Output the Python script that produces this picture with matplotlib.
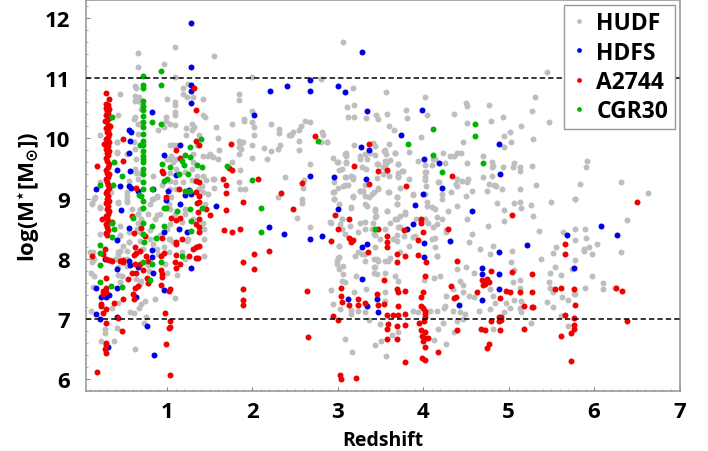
import matplotlib
matplotlib.use('Agg')
import matplotlib.pyplot as plt
import numpy as np
from matplotlib.ticker import MultipleLocator

# redshift, log mass
hudf = [
(.66,11.42),(.66,11.19),(1.09,11.51),(.97,11.24),(1.55,11.36),(1.09,11.02),(1.99,11.02),(.62,10.87),(.64,10.83),(.45,10.73),
(.62,10.70),(.67,10.68),(.62,10.62),(.68,10.61),(.70,10.48),(.43,10.38),(.61,10.32),(.63,10.35),(.70,10.26),(.66,10.24),
(.21,10.06),(.41,9.93),(.42,9.76),(.61,9.93),(.66,10.07),(.63,9.82),(.64,9.65),(.64,9.43),(.63,9.46),(.68,9.43),(.66,9.32),
(.55,9.29),(.21,9.28),(.16,9.02),(.35,9.10),(.995,10.65),(1.09,10.60),(1.09,10.55),(1.19,10.73),(1.23,10.68),(1.19,10.83),
(1.25,10.90),(1.31,10.68),(1.42,10.65),(1.09,10.43),(1.09,10.38),(.99,10.36),(.99,10.29),(1.04,10.24),(.89,10.14),(.96,10.18),
(1.09,10.22),(1.22,10.17),(1.29,10.24),(1.32,10.18),(1.29,10.14),(1.22,10.06),(1.37,10.06),(1.42,10.38),(1.44,10.36),(1.57,10.18),
(1.60,10.0),(1.50,9.74),(1.54,9.69),(1.60,9.65),(1.61,9.80),(1.84,10.73),(1.84,10.63),(1.76,10.24),(1.90,10.32),(1.90,10.29),
(2.0,10.45),(1.99,10.27),(2.02,10.18),(2.02,10.06),(2.22,10.23),(2.31,10.15),(2.31,10.08),(2.43,10.05),(1.84,9.95),(1.85,9.90),
(1.89,9.93),(1.84,9.85),(1.87,9.82),(1.84,9.74),(1.99,9.89),(2.13,9.84),(2.22,9.79),(2.32,9.88),(2.30,9.83),(2.17,9.65),(1.99,9.67),
(1.76,9.60),(1.86,9.48),(1.55,9.32),(1.84,9.28),(1.85,9.15),(1.91,9.15),(1.55,9.17),(2.38,9.36),(2.30,9.03),(1.04,9.88),(1.10,9.88),
(1.11,9.65),(1.04,9.65),(1.07,9.60),(1.11,9.49),(1.04,9.43),(1.04,9.29),(1.09,9.27),(1.11,9.16),(1.04,9.16),(1.19,9.27),(1.31,9.74),
(1.31,9.60),(1.29,9.49),(1.35,9.38),(1.42,9.38),(1.41,9.21),(1.37,9.16),(1.42,9.10),(1.42,9.71),(.84,9.0),(.88,9.02),(.53,9.05),
(.12,8.92),(.21,8.85),(.43,8.93),(.53,8.95),(.68,8.82),(.66,8.74),(.80,8.91),(.92,8.74),(1.04,8.82),(1.04,8.57),(1.21,8.74),(1.42,8.59),
(1.31,8.66),(.45,8.55),(.21,8.41),(.31,8.58),(.66,8.60),(.68,8.44),(.55,8.27),(.45,8.38),(.80,8.33),(.88,8.35),(.995,8.49),(1.04,8.33),
(1.23,8.30),(.96,8.19),(.68,8.30),(.72,8.16),(.88,8.16),(.45,8.13),(.43,8.08),(.53,8.13),(.13,8.12),(.14,8.0),(.43,8.02),(.53,7.88),
(.11,7.77),(.15,7.72),(.43,7.73),(.47,7.71),(.64,7.66),(.70,7.63),(.79,7.80),(.998,7.77),(1.12,7.73),(.13,7.53),(.45,7.61),(.68,7.58),
(.74,7.30),(.86,7.33),(1.09,7.35),(.70,7.25),(.67,7.18),(.43,7.27),(.36,7.19),(.11,7.13),(.57,7.11),(.61,7.10),(.75,7.03),(.73,6.93),
(.27,6.84),(.27,6.76),(.42,6.85),(.23,6.64),(.38,6.64),(.62,6.51),
(.41,9.93),(.42,9.78),(.53,9.74),(.63,9.49),(.84,9.38),(.53,9.10),(.53,8.97),(.43,8.94),(.22,8.86),(.12,8.91),(.14,9.0),(.66,8.75),
(.78,8.75),(.86,8.66),(1.02,8.91),(1.07,9.88),(1.05,9.71),(1.0,9.66),(1.21,9.44),(1.29,9.30),(1.46,9.30),(1.48,9.08),(1.45,8.91),
(1.35,9.88),(1.48,9.71),(1.54,9.33),(.88,9.05),(.94,9.22),(1.05,9.02),(1.21,8.83),(1.09,8.75),(1.17,8.61),(.82,9.0),(.88,8.72),
(.59,8.83),(.70,8.66),(.65,8.50),(.80,8.47),(.55,8.44),(.45,8.39),(.49,8.22),(.43,8.11),(.10,8.11),(.12,7.94),(.55,8.27),(.92,8.39),
(1.02,8.33),(1.07,8.27),(1.25,8.33),(1.43,8.33),(1.43,8.50),(.90,8.08),(1.02,8.11),(1.17,8.11),(.70,8.14),(.84,8.25),(.53,8.0),
(.39,8.0),(1.21,8.0),(1.43,8.05),(.98,7.92),(.78,7.89),(.43,7.86),
(3.06,11.59),(2.80,10.99),(3.18,10.84),(3.56,10.76),(4.02,10.69),(3.11,10.52),(3.19,10.56),(3.12,10.35),(3.19,10.36),(3.33,10.33),
(3.45,10.38),(3.47,10.32),(3.58,10.40),(3.80,10.47),(3.81,10.33),(4.04,10.38),(4.36,10.40),(4.50,10.59),(4.51,10.53),(4.77,10.55),
(4.51,10.26),(4.79,10.28),(3.60,10.21),(3.66,10.13),(3.97,10.02),(2.62,10.28),(2.67,10.27),(2.57,10.21),(2.54,10.14),(2.47,10.11),
(2.45,10.06),(2.81,10.11),(2.83,10.06),(2.87,9.94),(2.80,9.93),(2.54,9.95),(2.54,9.81),(3.19,9.88),(3.41,9.92),(3.44,9.87),(3.60,9.90),
(3.54,9.79),(3.56,9.74),(3.67,9.75),(3.26,9.71),(3.32,9.74),(3.38,9.76),(3.43,9.73),(3.09,9.75),(3.10,9.70),(2.94,9.67),(3.0,9.60),
(3.10,9.59),(2.67,9.57),(3.01,9.47),(3.28,9.53),(3.33,9.49),(3.47,9.57),(3.55,9.63),(3.61,9.64),(3.55,9.56),(3.70,9.58),(3.57,9.46),
(3.53,9.40),(3.60,9.37),(3.71,9.43),(3.76,9.46),(3.71,9.35),(3.09,9.35),(3.16,9.37),(3.18,9.32),(3.46,9.34),(3.83,9.32),(4.03,9.44),
(4.02,9.36),(4.10,9.55),(4.17,9.28),(4.23,9.75),(4.26,9.59),(4.14,9.65),(4.36,9.70),(4.40,9.75),(4.44,9.75),(4.47,9.93),(4.51,9.59),
(4.70,9.71),(4.80,9.60),(4.82,9.54),(4.80,9.52),(4.40,9.33),(4.45,9.29),(4.52,9.32),(4.38,9.24),(4.39,9.21),(4.51,9.27),(4.70,9.36),
(4.81,9.37),(4.77,9.24),(4.83,9.23),(4.85,9.21),(4.75,9.12),(4.57,9.13),(4.03,9.20),(4.02,9.07),(4.22,9.07),(3.88,9.06),(3.60,9.10),
(3.73,9.18),(3.47,9.18),(3.40,9.07),(3.30,9.13),(3.26,9.13),(3.12,9.23),(3.06,9.21),(3.0,9.18),(2.94,9.11),(2.59,9.18),(2.60,9.31),
(3.18,9.05),(3.69,9.03),(4.50,9.05),(2.58,8.99),(2.95,9.0),
(2.87,9.93),(3.08,9.74),(3.10,9.60),(2.99,9.60),(3.05,9.49),(2.95,9.27),(3.08,9.35),(3.18,9.35),(3.08,9.22),(3.26,9.13),(3.32,9.22),
(3.32,9.05),(3.36,9.02),(3.42,9.10),(3.47,9.16),(3.59,9.10),(3.34,9.66),(3.26,9.66),(3.46,9.57),(3.57,9.60),(3.53,9.52),(3.71,9.57),
(3.75,9.46),(3.71,9.38),(3.55,9.80),(3.67,9.76),(2.95,9.10),(2.95,9.0),(3.01,8.91),(3.18,9.02),(3.16,8.86),(3.32,8.91),(3.44,8.83),
(3.44,8.69),(3.57,8.80),(3.69,9.02),(3.69,8.91),(3.79,8.75),(3.69,8.66),(3.71,8.52),(2.91,8.61),(3.05,8.66),(3.14,8.55),(3.32,8.61),
(3.24,8.44),(3.40,8.50),(3.44,8.39),(3.01,8.22),(3.24,8.11),(3.44,8.19),(3.65,8.33),(3.69,8.39),(3.88,8.36),(3.83,8.22),(3.73,8.11),
(3.46,8.0),(3.28,8.08),(3.20,8.05),(3.01,8.03),(2.99,7.92),(3.42,7.86),(3.59,7.97),(3.88,9.08),(4.10,8.86),(4.04,8.94),(4.16,8.69),
(4.22,8.66),(4.02,8.66),(4.12,8.52),(4.10,8.33),(4.16,8.05),(4.27,8.47),(4.02,9.44),(4.02,9.30),(4.18,9.27),(4.12,9.66),(4.31,9.71),
(4.22,9.0),(4.33,9.10),(4.02,9.55),(3.83,9.77),(3.94,9.63),
(2.58,8.93),(2.52,8.67),(2.67,8.52),(2.92,8.59),(3.05,8.66),(3.03,8.57),(3.05,8.49),(3.08,8.41),(3.01,8.22),(3.0,8.02),(2.99,7.97),
(3.01,7.83),(3.06,7.88),(3.06,7.75),(3.05,7.63),(3.08,7.61),(2.92,7.48),(2.94,7.25),(3.02,7.17),(3.15,7.15),(3.16,7.08),(3.19,7.45),
(3.21,7.71),(3.26,8.60),(3.16,8.85),(3.34,8.88),(3.44,8.80),(3.45,8.71),(3.41,8.60),(3.32,8.49),(3.42,8.41),(3.49,8.33),(3.55,8.49),
(3.61,8.60),(3.67,8.66),(3.73,8.71),(3.79,8.77),(3.69,8.91),(3.57,8.80),(3.73,8.52),(3.69,8.30),(3.77,8.38),(3.92,8.66),(3.90,8.38),
(4.04,8.88),(4.14,8.82),(4.06,8.60),(4.16,8.57),(4.14,8.35),(4.14,8.19),(4.16,8.05),(4.27,8.44),(4.29,8.80),(4.39,8.88),(4.51,8.66),
(4.57,8.41),(4.53,8.27),(4.66,8.16),(4.76,8.55),(4.82,8.22),(4.78,8.08),(4.86,8.93),(3.32,8.08),(3.32,7.97),(3.42,8.0),(3.47,7.97),
(3.55,7.97),(3.61,8.02),(3.44,7.86),(3.42,7.77),(3.46,7.75),(3.55,7.76),(3.67,7.71),(3.71,7.63),(4.01,7.65),(4.13,7.68),(4.20,7.71),
(4.39,7.83),(4.43,7.63),(4.47,7.56),(4.50,7.86),(4.59,7.77),(4.27,7.39),(4.35,7.50),(4.47,7.44),(4.53,7.39),(4.59,7.37),(4.78,7.50),
(4.82,7.39),(4.84,7.27),(4.78,7.16),(4.65,7.14),(4.49,7.08),(4.43,7.11),(4.35,7.14),(4.24,7.19),(4.26,7.22),(4.16,7.14),(4.08,7.14),
(3.88,7.14),(3.94,7.11),(3.55,7.30),(3.55,7.44),(3.33,7.50),(3.49,6.92),(3.36,6.99),(3.24,7.14),(3.32,7.11),(4.23,6.93),(4.17,6.84),
(4.39,6.97),(4.47,7.0),(4.82,6.83),(3.08,6.66),(3.17,6.45),(3.44,6.57),(3.63,6.73),(3.70,6.79),(3.51,6.64),(3.56,6.39),(4.27,6.59),
(4.13,6.65),(4.36,6.78),
(6.38,8.64),(5.64,8.45),(5.78,8.50),(5.89,8.49),(5.35,8.46),(5.91,8.34),(5.78,8.31),(6.04,8.25),(5.94,8.20),(5.88,8.17),(5.88,8.13),
(5.97,8.08),(6.31,8.11),(5.56,8.20),(5.52,8.09),(5.38,8.0),(5.04,8.13),(5.03,7.95),(5.78,7.98),(5.54,7.86),(5.74,7.83),(5.48,7.77),
(5.61,7.73),(5.98,7.71),(5.47,7.62),(6.11,7.60),(6.11,7.50),(5.89,7.51),(5.48,7.51),(6.24,7.51),(5.52,7.44),(5.76,7.42),(5.78,7.42),
(5.63,7.37),(5.70,7.31),(5.45,7.28),(5.52,7.20),(5.61,7.05),(5.69,6.89),(5.26,6.94),(5.13,7.65),(5.13,7.52),(5.05,7.62),(5.06,7.82),
(5.02,7.19),(4.97,7.26),(5.06,7.31),(5.14,7.30),(5.13,7.18),(5.15,7.11),(4.94,7.11),(4.94,8.81),(4.94,8.63),(5.06,8.92),(5.13,8.95),
(5.15,8.85),(5.26,8.89),(5.49,8.95),(5.29,8.71),(5.78,8.99),
(5.45,11.10),(5.31,10.68),(5.27,10.45),(4.93,10.35),(5.47,10.27),(5.92,10.24),(5.15,10.21),(5.02,10.10),(4.94,10.03),(5.03,9.93),
(5.29,9.98),(4.95,9.86),(5.06,9.59),(5.05,9.52),(5.13,9.52),(5.13,9.46),(4.93,9.52),(5.27,9.54),(5.92,9.63),(5.91,9.52),(5.83,9.24),
(6.32,9.28),(6.63,9.09),(5.32,9.23),(5.13,9.15),(4.92,9.16),(5.78,9.0),
]

hdfs = [
(1.28,11.91),(1.28,11.18),(1.28,10.88),(1.28,10.78),(1.28,10.59),(.83,10.44),(.56,10.14),(.58,10.10),(.57,9.96),(1.15,9.89),(.56,9.75),
(.97,9.73),(.42,9.48),(.57,9.46),(1.10,9.39),(.45,9.20),(.17,9.15),(.56,9.21),(.58,9.18),(.66,9.13),(.84,9.15),(1.01,9.13),(1.26,9.14),
(1.21,9.06),(1.28,9.07),(2.21,10.79),(2.40,10.87),(2.02,10.39),(.46,8.81),(.99,8.97),(1.15,8.91),(1.57,8.87),(.56,8.51),(.41,8.31),
(.96,8.44),(1.14,8.49),(1.23,8.45),(2.19,8.53),(2.37,8.41),(.83,8.14),(.28,8.0),(.56,7.96),(.57,7.90),(.66,7.86),(.42,7.83),(.82,8.03),
(.84,7.77),(1.28,7.85),(.17,7.52),(.42,7.52),(.97,7.48),(.23,7.37),(.29,7.37),(.32,7.40),(.64,7.37),(.17,7.08),(.22,7.0),(.42,7.03),
(.77,6.88),(.31,6.53),(.85,6.41),(3.28,11.44),(2.67,10.96),(2.67,10.78),(3.0,10.87),(3.08,10.77),(3.34,10.46),(3.99,10.47),(3.74,10.05),
(3.27,9.85),(3.37,9.81),(4.89,9.90),(4.01,9.66),(4.18,9.59),(2.67,9.37),(2.95,9.36),(3.33,9.32),(4.90,9.41),(4.22,9.18),(4.0,9.08),
(3.0,8.83),(3.9,8.90),(4.57,8.80),(3.81,8.49),(3.88,8.57),(2.67,8.32),(2.81,8.38),(3.34,8.25),(3.28,8.20),(4.01,8.26),(4.31,8.29),
(4.01,8.03),(4.89,8.11),(4.69,7.85),(4.69,7.75),(3.28,7.67),(4.89,7.75),(4.89,7.49),(3.12,7.33),(3.46,7.34),(3.34,7.21),(3.47,7.11),
(4.42,7.24),(4.69,7.31),(6.08,8.55),(6.27,8.39),(5.68,8.39),(5.21,8.23),(5.76,7.84),
]

a2744 = [
(.29,10.75),(.32,10.65),(.29,10.57),(.31,10.55),(.29,10.50),(.32,10.48),(.30,10.45),(.31,10.42),(.29,10.38),(.32,10.33),(.30,10.30),
(.28,10.28),(.31,10.22),(.33,10.20),(.29,10.17),(.31,10.14),(.30,10.10),(.32,10.07),(.31,10.02),(.29,9.98),(.32,9.94),(.30,9.90),
(.31,9.87),(.29,9.83),(.32,9.79),(.30,9.76),(.31,9.72),(.29,9.68),(.30,9.62),(.32,9.58),(.31,9.52),(.29,9.47),(.30,9.43),(.32,9.40),
(.31,9.36),(.29,9.32),(.30,9.28),(.31,9.22),(.32,9.18),(.30,9.13),(.29,9.09),(.31,9.05),(.30,9.0),(.32,8.96),(.29,8.92),(.31,8.87),
(.30,8.83),(.32,8.80),(.31,8.75),(.29,8.71),(.30,8.67),(.31,8.62),(.29,8.58),(.30,8.53),(.31,8.47),(.29,8.43),(.30,8.40),
(.49,9.98),(.26,9.90),(.18,9.54),(.49,9.62),(.64,9.18),(1.32,10.83),(1.34,10.47),(1.34,9.96),(1.37,9.88),(1.10,9.80),(1.15,9.68),
(.94,9.45),(.95,9.43),(1.75,9.90),(1.73,9.50),(1.76,9.48),(1.65,9.33),(1.69,9.22),(1.69,9.09),(2.07,9.32),(2.33,9.09),(1.34,9.29),
(1.37,9.27),(1.14,9.16),(1.34,9.11),(1.37,9.04),(.99,9.02),
(1.89,8.95),(1.69,8.81),(1.46,8.83),(1.50,8.72),(1.35,8.92),(1.37,8.95),(1.36,8.77),(.24,8.66),(.36,8.61),(.59,8.71),(1.05,8.68),(1.11,8.64),
(1.15,8.67),(1.37,8.66),(1.34,8.58),(1.37,8.52),(1.37,8.45),(1.67,8.48),(1.76,8.44),(1.85,8.49),(.69,8.51),(.61,8.42),(.74,8.38),(.94,8.34),
(1.18,8.33),(1.11,8.27),(1.11,8.24),(.62,8.19),(.68,8.13),(.64,8.10),(.61,8.06),(.28,8.16),(.25,8.08),(.12,8.04),(.76,8.05),(.96,8.10),
(.93,8.04),(1.10,8.07),(1.26,8.04),(1.31,8.16),(1.34,8.19),(1.37,8.22),(1.34,8.01),(1.36,8.01),(.29,8.0),(.32,7.98),(.36,7.97),(.45,7.97),
(.48,7.94),(.49,7.98),(.62,7.91),(.68,7.91),(.78,7.96),(1.09,7.94),(1.15,7.91),(2.02,8.08),(2.19,8.13),(1.89,7.94),(2.02,7.83),(1.10,7.84),
(.93,7.82),(.72,7.81),(.59,7.77),(.64,7.76),(.94,7.75),(.94,7.70),(.29,7.68),(.54,7.66),(.77,7.68),(.78,7.60),(.93,7.57),(.66,7.55),
(.62,7.52),(.29,7.51),(.25,7.47),(.29,7.45),(1.03,7.50),(1.02,7.47),(1.89,7.50),(.60,7.41),(.61,7.33),(.25,7.41),(.49,7.33),(1.89,7.31),
(1.89,7.24),(.38,7.26),(.23,7.25),(.23,7.21),(.29,7.16),(.25,7.10),(.98,7.10),(.43,7.01),(.29,6.94),(1.04,6.96),(1.04,6.87),(1.02,6.85),
(.47,6.80),(.29,6.61),(.29,6.57),(.28,6.50),(.29,6.43),(.99,6.59),(.18,6.12),(1.04,6.07),
(2.73,10.03),(2.58,9.26),(3.37,9.90),(3.19,9.54),(3.47,9.45),(3.58,9.47),(3.37,9.24),(3.80,9.20),(4.34,9.37),
(2.47,8.83),(2.97,8.72),(3.13,8.66),(3.0,8.50),(2.92,8.29),(3.13,8.35),(3.18,8.31),(3.15,8.27),(3.47,8.50),(3.58,8.37),(3.58,8.27),
(3.58,8.20),(3.35,8.12),(3.69,8.08),(3.69,7.95),(3.79,8.04),(3.78,8.48),(3.97,8.66),(3.97,8.60),(4.0,8.45),(3.94,8.31),(4.29,8.49),
(3.94,8.06),(4.03,7.94),(4.40,7.97),(4.02,7.72),(3.54,7.64),(4.33,7.54),(4.79,7.79),(4.69,7.65),(4.75,7.66),(4.77,7.61),(4.70,7.56),
(4.72,7.58),(4.63,7.44),(3.04,7.52),(2.64,7.46),(3.69,7.50),(3.70,7.44),(3.79,7.46),(4.0,7.45),(3.46,7.41),(3.97,7.36),(3.04,7.38),
(3.05,7.29),(3.24,7.34),(4.36,7.35),(4.38,7.36),(3.13,7.23),(3.24,7.23),(3.32,7.26),(3.47,7.24),(3.54,7.25),(3.70,7.21),(3.97,7.22),
(4.0,7.19),(4.02,7.14),(2.94,7.05),(3.0,6.99),(3.58,7.07),(3.65,7.07),(3.70,7.07),(3.79,7.09),(4.02,7.08),(4.02,7.03),(4.01,6.97),
(3.95,6.93),(3.59,6.92),(3.58,6.84),(3.69,6.89),(3.79,6.90),(3.97,6.81),(4.02,6.79),(3.98,6.72),(4.02,6.69),(4.05,6.69),(4.0,6.64),
(4.02,6.54),(3.58,6.66),(3.69,6.66),(2.65,6.70),(4.17,6.46),(3.99,6.35),(4.02,6.32),(3.79,6.28),(3.02,6.07),(3.04,6.01),(3.21,6.02),
(4.39,6.81),(4.68,6.84),(4.72,6.81),(4.79,6.96),(4.77,6.59),(4.75,6.52),(4.89,7.03),(4.89,6.97),(4.90,6.82),
(6.50,8.95),(5.04,8.72),(5.66,8.24),(5.66,8.08),(5.04,7.78),(5.27,7.75),(5.54,7.49),(5.61,7.51),(5.77,7.49),(6.26,7.51),(6.33,7.47),
(4.97,7.46),(5.01,7.45),(5.13,7.44),(5.27,7.44),(4.90,7.35),(5.18,7.21),(5.27,7.20),(5.29,7.20),(5.78,7.23),(5.66,7.07),(5.77,7.01),
(6.38,6.96),(5.76,6.90),(5.76,6.84),(5.18,6.83),(5.73,6.77),(5.61,6.72),(5.73,6.31),(4.91,7.03),(4.91,6.98),
]

cgr30 = [
(.72,11.04),(.72,10.88),(.72,10.83),(.93,11.11),(.93,10.88),(.72,10.62),(.72,10.54),(.72,10.47),(.72,10.37),(.36,10.36),(.72,10.27),
(.83,10.27),(.93,10.24),(.72,10.18),(.72,10.07),(1.40,9.99),(.72,9.96),(.68,9.89),(.72,9.88),(1.27,9.86),(.72,9.79),(1.21,9.73),
(1.27,9.69),(.72,9.71),(.72,9.65),(.72,9.60),(.38,9.60),(.94,9.57),(1.18,9.62),(1.20,9.56),(1.35,9.56),(1.41,9.53),(1.04,9.52),
(1.70,9.54),(.72,9.49),(.72,9.40),(1.14,9.40),(1.25,9.40),(.47,9.37),(.96,9.29),(1.0,9.32),(1.99,9.31),(.72,9.28),(.37,9.23),(.21,9.23),
(.72,9.16),(.83,9.15),(1.21,9.12),(1.27,9.13),(.67,9.06),(.70,9.05),(.96,8.85),(.99,8.85),(.72,8.96),(.72,8.85),(1.12,8.80),(1.27,8.82),
(1.41,8.85),(2.10,8.84),(.60,8.67),(.36,8.60),(.72,8.60),(1.28,8.63),(.82,8.54),(.96,8.55),(.38,8.49),(.72,8.41),(1.28,8.46),(2.10,8.45),
(.36,8.36),(.87,8.34),(.73,8.27),(.21,8.23),(.22,8.09),(1.18,8.05),(.72,7.94),(.93,7.94),(.83,7.91),(.21,7.89),(.80,7.65),(.21,7.62),
(.35,7.54),(.47,7.53),(2.77,9.96),(4.11,10.16),(3.82,9.90),(4.61,10.23),(4.61,10.03),(4.11,9.73),(4.22,9.44),(4.70,9.59),(3.44,8.50),
]

series_names = ['HUDF', 'HDFS', 'A2744', 'CGR30']
series_data = [hudf, hdfs, a2744, cgr30]
series_colors = ['#bebebe', '#0000e6', '#f00000', '#00b400']
limit_lines = [7, 11]

plt.rcParams['font.family'] = ['Open Sans', 'DejaVu Sans']
plt.rcParams['font.weight'] = 'bold'
plt.rcParams['mathtext.fontset'] = 'dejavusans'
plt.rcParams['mathtext.default'] = 'bf'

fig = plt.figure(figsize=(7.08, 4.52), dpi=100)
ax = fig.add_axes([85.5 / 708, 60 / 452, 594 / 708, 391 / 452])

for name, data, col in zip(series_names, series_data, series_colors):
    pts = np.array(data)
    ax.plot(pts[:, 0], pts[:, 1], 'o', color=col, ms=4.3, mew=0, label=name)

for yy in limit_lines:
    ax.axhline(yy, color='black', ls=(0, (3.5, 2)), lw=1.1, zorder=5)

ax.set_xlim(0.046, 7)
ax.set_ylim(5.805, 12.295)
ax.xaxis.set_major_locator(MultipleLocator(1))
ax.xaxis.set_minor_locator(MultipleLocator(0.1))
ax.yaxis.set_major_locator(MultipleLocator(1))
ax.yaxis.set_minor_locator(MultipleLocator(0.2))
ax.tick_params(which='major', direction='in', length=3, width=0.8, color='#888888', labelsize=16)
ax.tick_params(axis='x', which='major', pad=7)
ax.tick_params(axis='y', which='major', pad=11)
ax.tick_params(which='minor', direction='in', length=1.5, width=0.5, color='#888888')

for sp in ax.spines.values():
    sp.set_color('#999999')
    sp.set_linewidth(1.2)

ax.set_xlabel('Redshift', fontsize=14, fontweight='bold', labelpad=6)
ax.set_ylabel(r'log(M$^{\star}$[M$_{\odot}$])', fontsize=16, fontweight='bold', labelpad=2)

leg = ax.legend(loc='upper right', fontsize=16.5, markerscale=0.8, fancybox=False, framealpha=1,
                edgecolor='#999999', borderaxespad=0.2, handletextpad=0.39, labelspacing=0.22,
                borderpad=0.3, handlelength=0.7, numpoints=1)
leg.get_frame().set_linewidth(1.0)
leg.set_zorder(10)

fig.savefig('out.png', dpi=100)
